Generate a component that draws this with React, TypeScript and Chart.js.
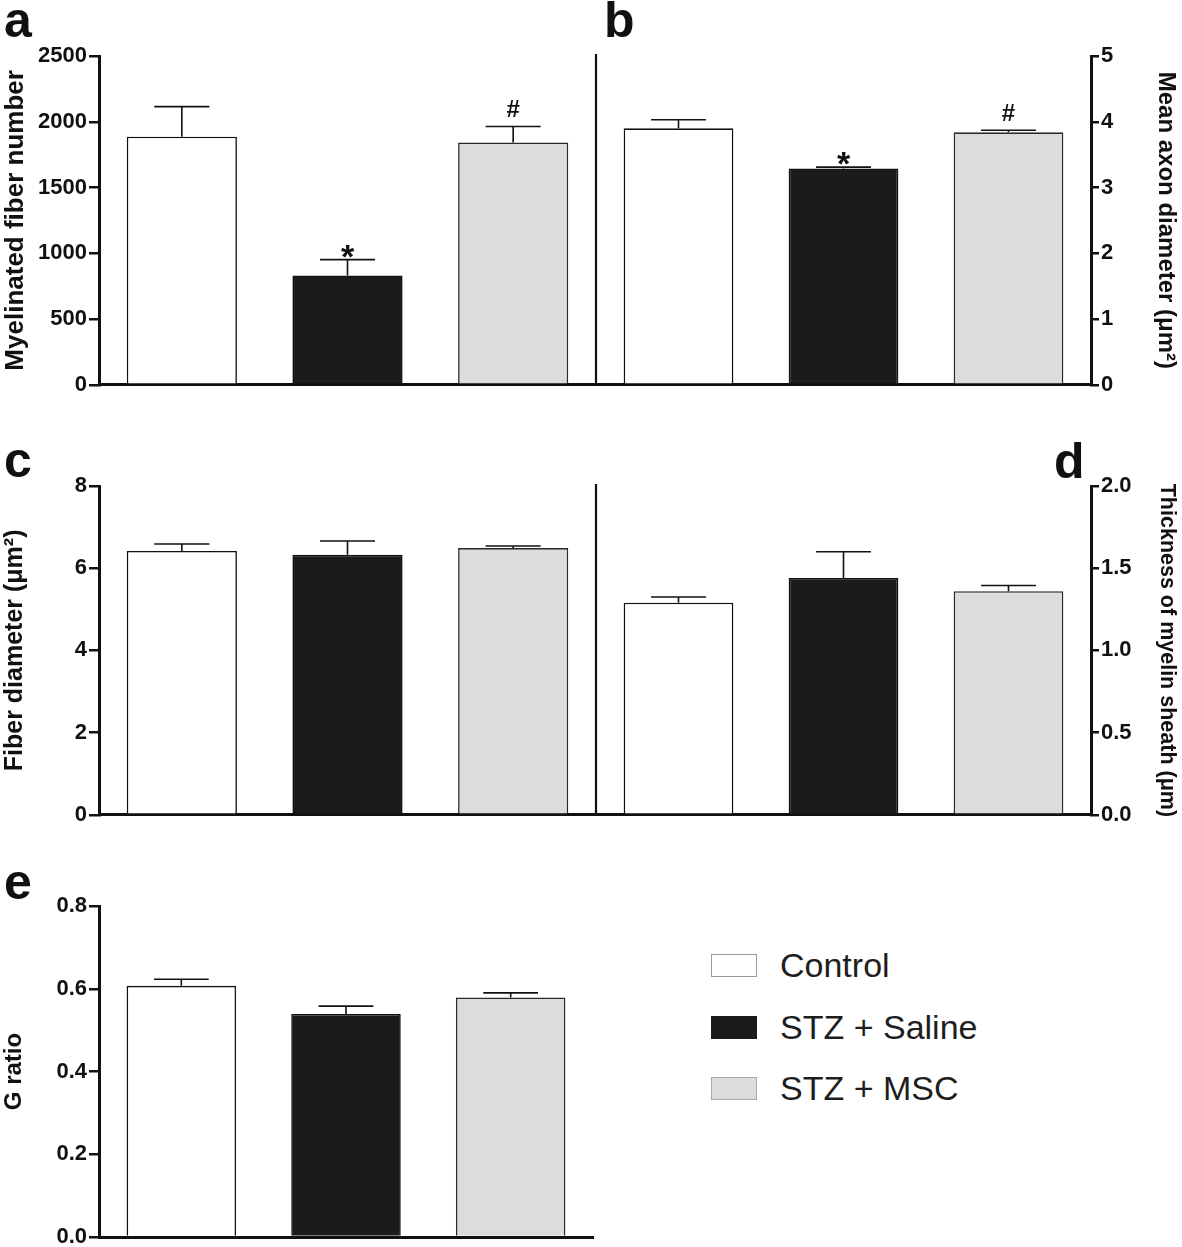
import React, { useEffect, useRef } from 'react';
import { Chart, registerables } from 'chart.js';

Chart.register(...registerables);

const FONT = '"Liberation Sans", Arial, Helvetica, sans-serif';
const INK = '#111111';

// groups (shared by every panel)
const groups = ['Control', 'STZ + Saline', 'STZ + MSC'];
const groupFill = ['#ffffff', '#1b1b1b', '#dcdcdc'];
const groupEdge = ['#111111', '#111111', '#2a2a2a'];
const legendEdge = ['#9a9a9a', '#1b1b1b', '#a8a8a8'];

// a: myelinated fiber number
const fiberNumberMean = [1886, 831, 1843];
const fiberNumberSem = [229, 121, 121];
const fiberNumberMarks = ['', '*', '#'];
const fiberNumberTicks = [0, 500, 1000, 1500, 2000, 2500];

// b: mean axon diameter
const axonDiameterMean = [3.9, 3.29, 3.84];
const axonDiameterSem = [0.13, 0.02, 0.03];
const axonDiameterMarks = ['', '*', '#'];
const axonDiameterTicks = [0, 1, 2, 3, 4, 5];

// c: fiber diameter
const fiberDiameterMean = [6.42, 6.33, 6.49];
const fiberDiameterSem = [0.17, 0.33, 0.05];
const fiberDiameterMarks = ['', '', ''];
const fiberDiameterTicks = [0, 2, 4, 6, 8];

// d: thickness of myelin sheath
const myelinThicknessMean = [1.29, 1.44, 1.36];
const myelinThicknessSem = [0.035, 0.16, 0.035];
const myelinThicknessMarks = ['', '', ''];
const myelinThicknessTicks = [0, 0.5, 1, 1.5, 2];

// e: G ratio
const gRatioMean = [0.607, 0.539, 0.579];
const gRatioSem = [0.016, 0.019, 0.011];
const gRatioMarks = ['', '', ''];
const gRatioTicks = [0, 0.2, 0.4, 0.6, 0.8];

type PanelSpec = {
  key: string;
  letter: string;
  letterPos: [number, number];
  means: number[];
  sem: number[];
  marks: string[];
  ticks: number[];
  decimals: number;
  title: string;
  titleSize: number;
  side: 'left' | 'right';
  spine: boolean;
  canvas: [number, number, number, number];
  plot: [number, number, number, number];
};

const panels: PanelSpec[] = [
  {
    key: 'a', letter: 'a', letterPos: [4, 37],
    means: fiberNumberMean, sem: fiberNumberSem, marks: fiberNumberMarks,
    ticks: fiberNumberTicks, decimals: 0,
    title: 'Myelinated fiber number', titleSize: 26,
    side: 'left', spine: false,
    canvas: [0, 0, 600, 400], plot: [99, 596, 56, 386],
  },
  {
    key: 'b', letter: 'b', letterPos: [604, 37],
    means: axonDiameterMean, sem: axonDiameterSem, marks: axonDiameterMarks,
    ticks: axonDiameterTicks, decimals: 0,
    title: 'Mean axon diameter (μm²)', titleSize: 24,
    side: 'right', spine: true,
    canvas: [594, 0, 588, 400], plot: [596, 1091, 56, 386],
  },
  {
    key: 'c', letter: 'c', letterPos: [4, 477],
    means: fiberDiameterMean, sem: fiberDiameterSem, marks: fiberDiameterMarks,
    ticks: fiberDiameterTicks, decimals: 0,
    title: 'Fiber diameter (μm²)', titleSize: 25,
    side: 'left', spine: false,
    canvas: [0, 430, 600, 400], plot: [99, 596, 486, 816],
  },
  {
    key: 'd', letter: 'd', letterPos: [1054, 478],
    means: myelinThicknessMean, sem: myelinThicknessSem, marks: myelinThicknessMarks,
    ticks: myelinThicknessTicks, decimals: 1,
    title: 'Thickness of myelin sheath (μm)', titleSize: 21.5,
    side: 'right', spine: true,
    canvas: [594, 430, 588, 400], plot: [596, 1091, 486, 816],
  },
  {
    key: 'e', letter: 'e', letterPos: [4, 899],
    means: gRatioMean, sem: gRatioSem, marks: gRatioMarks,
    ticks: gRatioTicks, decimals: 1,
    title: 'G ratio', titleSize: 24,
    side: 'left', spine: false,
    canvas: [0, 860, 600, 400], plot: [99, 593, 906, 1237],
  },
];

function errorBars(p: PanelSpec) {
  return {
    id: 'errorBars_' + p.key,
    afterDatasetsDraw(chart: any) {
      const ctx = chart.ctx as CanvasRenderingContext2D;
      const meta = chart.getDatasetMeta(0);
      const y = chart.scales.y;
      ctx.save();
      ctx.strokeStyle = INK;
      ctx.fillStyle = INK;
      ctx.lineWidth = 1.6;
      meta.data.forEach((bar: any, i: number) => {
        const { x, width } = bar.getProps(['x', 'width'], true);
        const yBar = y.getPixelForValue(p.means[i]);
        const yTop = y.getPixelForValue(p.means[i] + p.sem[i]);
        ctx.beginPath();
        ctx.moveTo(x, yBar);
        ctx.lineTo(x, yTop);
        ctx.moveTo(x - width / 4, yTop);
        ctx.lineTo(x + width / 4, yTop);
        ctx.stroke();
        const mark = p.marks[i];
        if (mark) {
          const star = mark === '*';
          ctx.font = `bold ${star ? 34 : 24}px ${FONT}`;
          ctx.textAlign = 'center';
          ctx.textBaseline = 'alphabetic';
          ctx.fillText(mark, x, yTop + (star ? 8 : -9));
        }
      });
      if (p.spine) {
        const a = chart.chartArea;
        ctx.lineWidth = 2.2;
        ctx.beginPath();
        ctx.moveTo(a.left, a.top - 2);
        ctx.lineTo(a.left, a.bottom);
        ctx.stroke();
      }
      ctx.restore();
    },
  };
}

function buildConfig(p: PanelSpec): any {
  const [cx, cy, cw, ch] = p.canvas;
  const [pl, pr, pt, pb] = p.plot;
  const left = p.side === 'left';
  const yWidth = left ? pl - cx : cx + cw - pr;
  const xHeight = cy + ch - pb;
  const maxV = p.ticks[p.ticks.length - 1];
  return {
    type: 'bar',
    data: {
      labels: groups,
      datasets: [
        {
          label: p.title,
          data: p.means,
          backgroundColor: groupFill,
          borderColor: groupEdge,
          borderWidth: 1.6,
          borderSkipped: 'start',
          barPercentage: 0.665,
          categoryPercentage: 1,
        },
      ],
    },
    options: {
      responsive: false,
      animation: false,
      devicePixelRatio: 1,
      events: [],
      layout: {
        padding: {
          top: pt - cy,
          bottom: 0,
          left: left ? 0 : pl - cx,
          right: left ? cx + cw - pr : 0,
        },
      },
      plugins: {
        legend: { display: false },
        tooltip: { enabled: false },
        title: { display: false },
      },
      scales: {
        x: {
          type: 'category',
          offset: true,
          grid: { display: false },
          ticks: { display: false },
          border: { display: true, color: INK, width: 3 },
          afterFit: (s: any) => { s.height = xHeight; },
        },
        y: {
          type: 'linear',
          position: p.side,
          min: 0,
          max: maxV,
          afterBuildTicks: (s: any) => { s.ticks = p.ticks.map((v) => ({ value: v })); },
          ticks: {
            callback: (v: any) => Number(v).toFixed(p.decimals),
            font: { family: FONT, size: 22, weight: 'bold' },
            color: INK,
            padding: 2,
          },
          grid: {
            display: true,
            drawOnChartArea: false,
            drawTicks: true,
            tickLength: left ? 10 : 8,
            tickWidth: 2.5,
            tickColor: INK,
            color: INK,
            lineWidth: 2.5,
          },
          border: { display: true, color: INK, width: 3 },
          title: {
            display: true,
            text: p.title,
            color: INK,
            font: { family: FONT, size: p.titleSize, weight: 'bold' },
            padding: { top: left ? 0 : 2, bottom: 0 },
          },
          afterFit: (s: any) => { s.width = yWidth; },
        },
      },
    },
    plugins: [errorBars(p)],
  };
}

function PanelChart({ p }: { p: PanelSpec }) {
  const ref = useRef<HTMLCanvasElement>(null);
  useEffect(() => {
    const canvas = ref.current;
    if (!canvas) return;
    const chart = new Chart(canvas, buildConfig(p));
    return () => chart.destroy();
  }, [p]);
  const [x, y, w, h] = p.canvas;
  return (
    <canvas
      ref={ref}
      width={w}
      height={h}
      style={{ position: 'absolute', left: x, top: y, width: w, height: h }}
    />
  );
}

function textTop(baseline: number, size: number) {
  return baseline - size * 0.8465;
}

const LETTER_SIZE = 50;
const LEGEND_SIZE = 34;
const legendRowBaselines = [977, 1039, 1100];

export default function App() {
  return (
    <div
      style={{
        position: 'absolute',
        left: 0,
        top: 0,
        width: 1182,
        height: 1247,
        overflow: 'hidden',
        background: '#ffffff',
        fontFamily: FONT,
      }}
    >
      {panels.map((p) => (
        <PanelChart key={p.key} p={p} />
      ))}
      {panels.map((p) => (
        <div
          key={'L' + p.key}
          style={{
            position: 'absolute',
            left: p.letterPos[0],
            top: textTop(p.letterPos[1], LETTER_SIZE),
            fontSize: LETTER_SIZE,
            lineHeight: 1,
            fontWeight: 'bold',
            color: INK,
            whiteSpace: 'nowrap',
          }}
        >
          {p.letter}
        </div>
      ))}
      {groups.map((g, i) => (
        <React.Fragment key={'G' + i}>
          <div
            style={{
              position: 'absolute',
              left: 711,
              top: legendRowBaselines[i] - 23,
              width: 44,
              height: 21,
              background: groupFill[i],
              border: `1px solid ${legendEdge[i]}`,
            }}
          />
          <div
            style={{
              position: 'absolute',
              left: 780,
              top: textTop(legendRowBaselines[i], LEGEND_SIZE),
              fontSize: LEGEND_SIZE,
              lineHeight: 1,
              color: '#1e1e1e',
              whiteSpace: 'nowrap',
            }}
          >
            {g}
          </div>
        </React.Fragment>
      ))}
    </div>
  );
}
